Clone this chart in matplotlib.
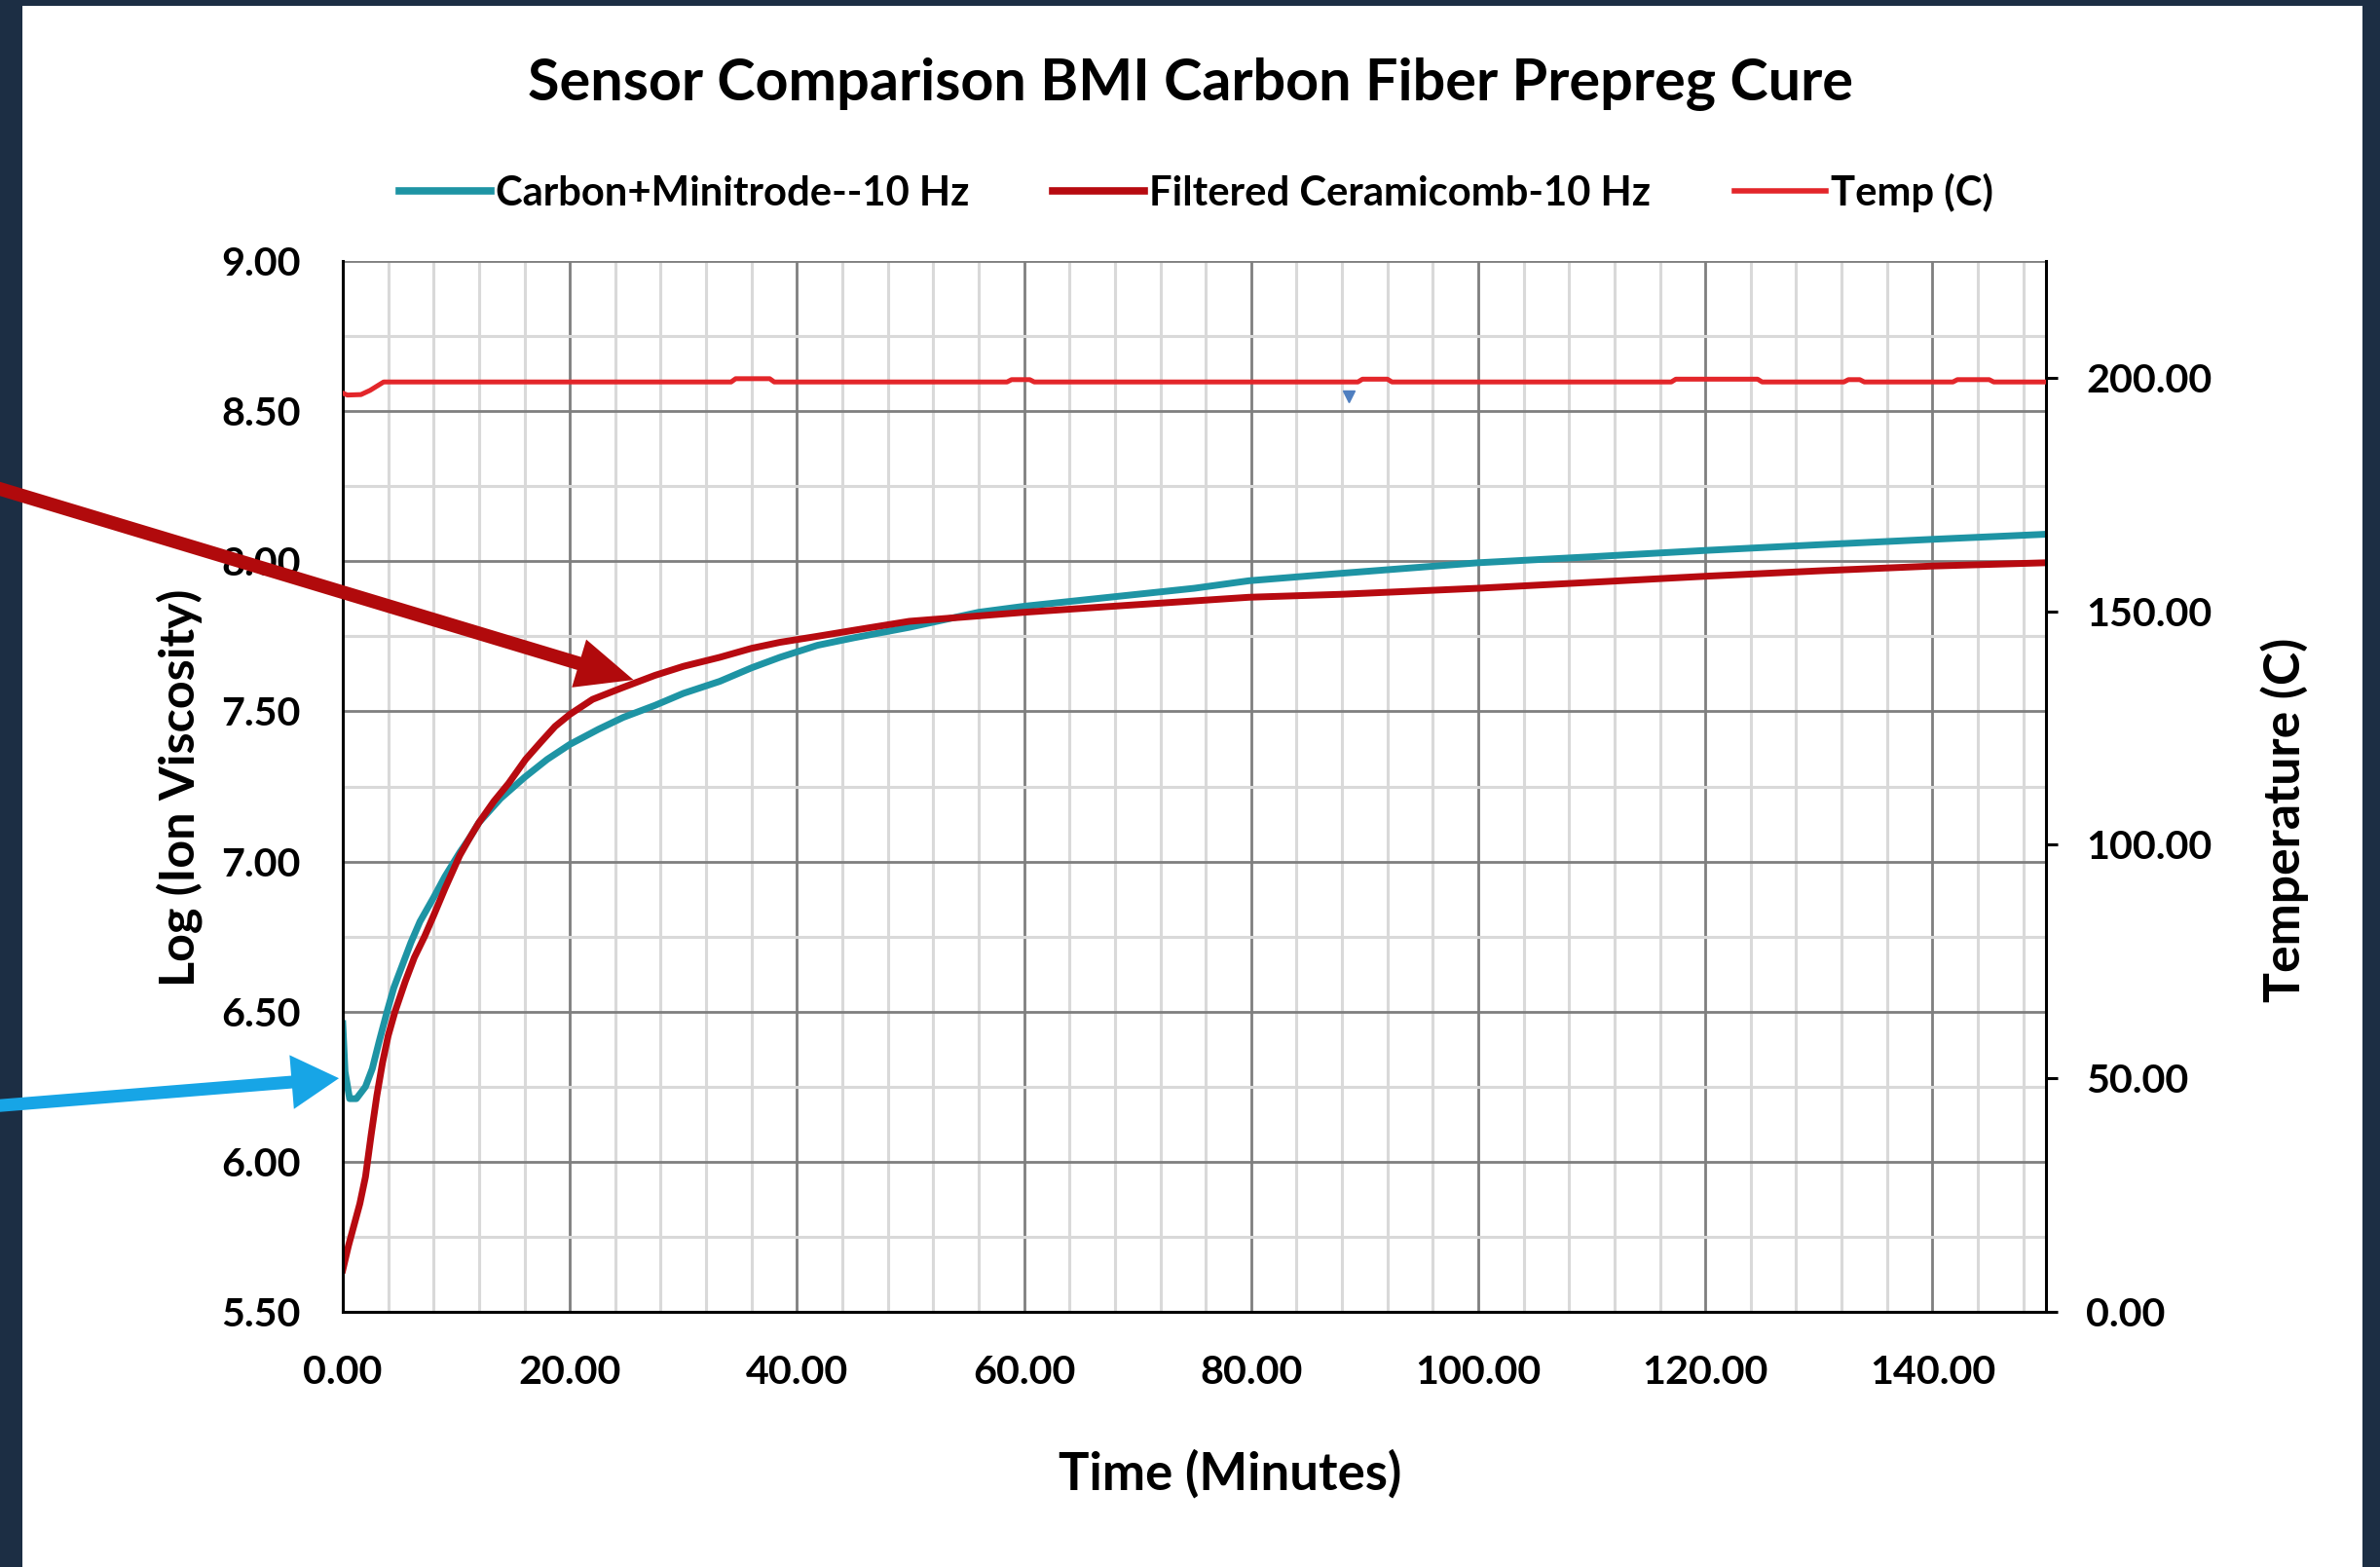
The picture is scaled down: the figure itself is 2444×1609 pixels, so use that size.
import matplotlib
matplotlib.use('Agg')
import matplotlib.pyplot as plt
from matplotlib.ticker import MultipleLocator, FormatStrFormatter
from matplotlib.patches import Rectangle, ConnectionPatch
from matplotlib.lines import Line2D

# ---------------- data ----------------
title = "Sensor Comparison BMI Carbon Fiber Prepreg Cure"
xlabel = "Time (Minutes)"
ylabel_left = "Log (Ion Viscosity)"
ylabel_right = "Temperature (C)"
series_names = ["Carbon+Minitrode--10 Hz", "Filtered Ceramicomb-10 Hz", "Temp (C)"]

carbon_t = [0, 0.2, 0.6, 1.2, 2.0, 2.6, 3.2, 3.9, 4.5, 5.2, 6.0, 6.8, 8.0, 9.0, 10.3, 11.2, 12.0,
            13.9, 16.0, 18.0, 20.0, 22.5, 24.7, 27.5, 30.0, 33.2, 36.0, 38.5, 41.8, 45.0, 49.9,
            56.0, 60.0, 65.0, 69.0, 75.0, 79.8, 88.0, 100.0, 110.0, 120.0, 130.0, 140.0, 150.0]
carbon_v = [6.46, 6.30, 6.21, 6.21, 6.25, 6.31, 6.40, 6.50, 6.58, 6.65, 6.73, 6.80, 6.88, 6.95, 7.03, 7.08, 7.13,
            7.21, 7.28, 7.34, 7.39, 7.44, 7.48, 7.52, 7.56, 7.60, 7.645, 7.68, 7.72, 7.745, 7.78,
            7.83, 7.85, 7.87, 7.886, 7.91, 7.935, 7.96, 7.995, 8.015, 8.036, 8.055, 8.073, 8.09]

ceram_t = [0, 0.5, 1.0, 1.5, 2.0, 2.5, 3.0, 3.5, 4.0, 4.6, 5.5, 6.3, 7.2, 8.0, 9.0, 10.3, 11.2, 12.0,
           13.3, 14.6, 16.1, 17.5, 18.7, 20.0, 22.0, 24.7, 27.5, 30.0, 33.2, 36.0, 38.5, 41.8, 45.0,
           49.9, 55.0, 60.0, 69.0, 79.8, 88.0, 100.0, 110.0, 120.0, 130.0, 140.0, 150.0]
ceram_v = [5.64, 5.72, 5.79, 5.86, 5.95, 6.09, 6.22, 6.33, 6.42, 6.50, 6.60, 6.68, 6.75, 6.82, 6.91, 7.02, 7.08, 7.13,
           7.20, 7.26, 7.34, 7.40, 7.45, 7.49, 7.54, 7.58, 7.62, 7.65, 7.68, 7.71, 7.73, 7.75, 7.77,
           7.80, 7.815, 7.83, 7.853, 7.88, 7.89, 7.91, 7.93, 7.95, 7.968, 7.984, 7.995]

temp_t = [0, 0.4, 1.6, 2.4, 3.6, 34.2, 34.6, 37.6, 38.0, 58.5, 58.9, 60.5, 60.9,
          89.4, 89.8, 92.0, 92.4, 117.0, 117.4, 124.6, 125.0, 132.2, 132.6, 133.6, 134.0,
          141.8, 142.2, 145.0, 145.4, 150.0]
temp_v = [196.7, 196.3, 196.4, 197.3, 199.1, 199.1, 199.8, 199.8, 199.1, 199.1, 199.6, 199.6, 199.1,
          199.1, 199.7, 199.7, 199.1, 199.1, 199.7, 199.7, 199.1, 199.1, 199.6, 199.6, 199.1,
          199.1, 199.6, 199.6, 199.1, 199.1]

blip_t = [88.6]
blip_v = [196.0]

# annotation arrow tips (data coords of the left axis)
red_arrow_tip = (25.6, 7.605)
blue_arrow_tip = (-0.34, 6.278)

# ---------------- style ----------------
FONT = ['Lato', 'DejaVu Sans']
plt.rcParams['font.family'] = FONT
W, H = 2444, 1609
BORDER = '#1c2e44'
TEAL = '#1e94a4'
DRED = '#b70a10'
TRED = '#e3262a'
ARROW_RED = '#b10a0c'
ARROW_BLUE = '#17a5e6'

fig = plt.figure(figsize=(W / 100, H / 100), dpi=100, facecolor=BORDER)
fig.patches.append(Rectangle((23 / W, 0), (2426 - 23) / W, 1 - 6 / H,
                             transform=fig.transFigure, facecolor='white',
                             edgecolor='none', zorder=-10))
r = fig.canvas.get_renderer()


def fit(s, target, base=30.0):
    t = fig.text(0, 0, s, fontsize=base, fontweight='bold')
    w = t.get_window_extent(renderer=r).width
    t.remove()
    return base * target / w


fs_title = fit(title, 1358)
fs_xlab = fit(xlabel, 352)
fs_ylab = fit(ylabel_left, 408)
fs_rlab = fit(ylabel_right, 374)
fs_tick = fit("140.00", 129)
fs_leg = fit(series_names[0], 485)

L, R, T, B = 352, 2101, 268, 1347
ax = fig.add_axes([L / W, 1 - B / H, (R - L) / W, (B - T) / H])
ax.set_facecolor('white')

l1, = ax.plot(carbon_t, carbon_v, color=TEAL, lw=5, solid_joinstyle='round', zorder=3)
l2, = ax.plot(ceram_t, ceram_v, color=DRED, lw=5, solid_joinstyle='round', zorder=3)

ax.set_xlim(0, 150)
ax.set_ylim(5.5, 9.0)
ax.xaxis.set_major_locator(MultipleLocator(20))
ax.xaxis.set_minor_locator(MultipleLocator(4))
ax.yaxis.set_major_locator(MultipleLocator(0.5))
ax.yaxis.set_minor_locator(MultipleLocator(0.25))
ax.xaxis.set_major_formatter(FormatStrFormatter('%.2f'))
ax.yaxis.set_major_formatter(FormatStrFormatter('%.2f'))
ax.grid(which='minor', color='#d9d9d9', lw=2.2, zorder=0)
ax.grid(which='major', color='#7f7f7f', lw=2.0, zorder=1)
ax.set_axisbelow(True)
ax.tick_params(which='both', length=0)
ax.tick_params(axis='y', which='major', pad=31, labelsize=fs_tick)
ax.tick_params(axis='x', which='major', pad=32, labelsize=fs_tick)
for lab in ax.get_xticklabels() + ax.get_yticklabels():
    lab.set_fontweight('bold')
ax.spines['top'].set_visible(False)
ax.spines['right'].set_visible(False)
for s in ('left', 'bottom'):
    ax.spines[s].set_color('black')
    ax.spines[s].set_linewidth(2.2)
    ax.spines[s].set_zorder(4)

ax2 = ax.twinx()
l3, = ax2.plot(temp_t, temp_v, color=TRED, lw=3.6, zorder=3)
ax2.plot(blip_t, blip_v, ls='none', marker='v', ms=9, color='#4f7fc0', zorder=4)
ax2.set_ylim(0, 225)
ax2.yaxis.set_major_locator(MultipleLocator(50))
ax2.yaxis.set_major_formatter(FormatStrFormatter('%.2f'))
ax2.tick_params(axis='y', which='major', length=8.6, width=2.2, direction='out',
                pad=21, labelsize=fs_tick, color='black')
ax2.tick_params(axis='y', which='minor', length=0)
for lab in ax2.get_yticklabels():
    lab.set_fontweight('bold')
for s in ('top', 'left', 'bottom'):
    ax2.spines[s].set_visible(False)
ax2.spines['right'].set_color('black')
ax2.spines['right'].set_linewidth(2.2)

# title and axis labels
fig.text(1223 / W, 1 - 87 / H, title, ha='center', va='center',
         fontsize=fs_title, fontweight='bold', color='black')
fig.text(1263 / W, 1 - 1513 / H, xlabel, ha='center', va='center',
         fontsize=fs_xlab, fontweight='bold', color='black')
fig.text(184 / W, 1 - 809 / H, ylabel_left, ha='center', va='center', rotation=90,
         fontsize=fs_ylab, fontweight='bold', color='black')
fig.text(2346 / W, 1 - 842 / H, ylabel_right, ha='center', va='center', rotation=90,
         fontsize=fs_rlab, fontweight='bold', color='black')

# legend
px_em = fs_leg * 100 / 72
hl = [Line2D([], [], color=TEAL, lw=5.5), Line2D([], [], color=DRED, lw=5.5),
      Line2D([], [], color=TRED, lw=4)]
fig.legend(hl, series_names, loc='center left', bbox_to_anchor=(410 / W, 1 - 198 / H),
           ncol=3, frameon=False, borderpad=0, borderaxespad=0,
           handlelength=94 / px_em, handletextpad=5 / px_em, columnspacing=86 / px_em,
           prop={'family': FONT, 'weight': 'bold', 'size': fs_leg})

# annotation arrows coming in from the left edge
red_arrow = ConnectionPatch(xyA=(-10 / W, (H - 499) / H), coordsA='figure fraction',
                            xyB=red_arrow_tip, coordsB='data', axesB=ax,
                            arrowstyle='simple,head_length=42,head_width=37,tail_width=10',
                            mutation_scale=1, facecolor=ARROW_RED, edgecolor='none',
                            shrinkA=0, shrinkB=0, zorder=20)
red_arrow.set_clip_on(False)
red_arrow.set_annotation_clip(False)
fig.add_artist(red_arrow)
blue_arrow = ConnectionPatch(xyA=(-10 / W, (H - 1136) / H), coordsA='figure fraction',
                             xyB=blue_arrow_tip, coordsB='data', axesB=ax,
                             arrowstyle='simple,head_length=35,head_width=40,tail_width=9.4',
                             mutation_scale=1, facecolor=ARROW_BLUE, edgecolor='none',
                             shrinkA=0, shrinkB=0, zorder=20)
blue_arrow.set_clip_on(False)
blue_arrow.set_annotation_clip(False)
fig.add_artist(blue_arrow)

fig.savefig('out.png', dpi=100, facecolor=fig.get_facecolor())
